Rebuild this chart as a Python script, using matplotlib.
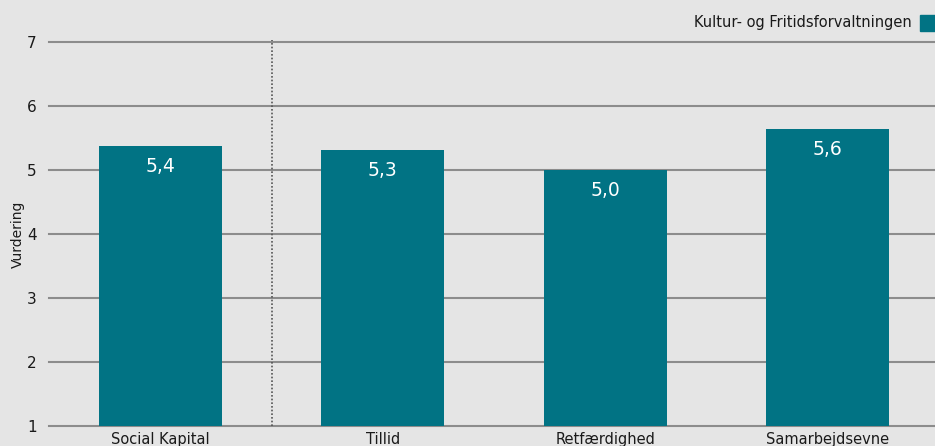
import matplotlib
matplotlib.use("Agg")
import matplotlib.pyplot as plt

categories = ["Social Kapital", "Tillid", "Retfærdighed", "Samarbejdsevne"]
values = [5.37, 5.31, 5.0, 5.64]
value_labels = ["5,4", "5,3", "5,0", "5,6"]
series_name = "Kultur- og Fritidsforvaltningen"
yticks = [1, 2, 3, 4, 5, 6, 7]

bg = "#e5e5e5"
bar_color = "#017384"

plt.rcParams['font.family'] = ['DejaVu Sans']
fig = plt.figure(figsize=(9.35, 4.46), dpi=100, facecolor=bg)
ax = fig.add_axes([49/935, 20/446, 890/935, 384/446])
ax.set_facecolor(bg)

x = list(range(len(categories)))
ax.bar(x, [v - 1 for v in values], bottom=1, width=0.553, color=bar_color, zorder=2)
for xi, v, lab in zip(x, values, value_labels):
    ax.annotate(lab, (xi, v), xytext=(0, -14.5), textcoords="offset points",
                ha="center", va="center", color="white", fontsize=13.5, zorder=3)

ax.set_xlim(-0.5, 3.5)
ax.set_ylim(1, 7)
ax.set_yticks(yticks)
ax.set_yticklabels([str(t) for t in yticks], fontsize=11)
ax.set_xticks(x)
ax.set_xticklabels(categories, fontsize=10.5)
ax.tick_params(axis="both", length=0, colors="#1a1a1a")
ax.tick_params(axis="y", pad=9)
ax.tick_params(axis="x", pad=4)
ax.yaxis.grid(True, color="#8c8c8c", linewidth=1.5, zorder=0)
ax.set_axisbelow(True)
for gl in ax.get_ygridlines():
    gl.set_clip_on(False)
for s in ax.spines.values():
    s.set_visible(False)
ax.axvline(0.5, ymin=0, ymax=1.005, color="#555555", linestyle=(0, (1, 1.2)), linewidth=1.2, zorder=1, clip_on=False)

ax.set_ylabel("Vurdering", fontsize=10, color="#1a1a1a")
ax.yaxis.set_label_coords(-0.036 + 8/890, 0.5)

# legend
fig.patches.append(plt.Rectangle((920/935, (446-31)/446), 16/935, 16/446,
                                 transform=fig.transFigure, color=bar_color, figure=fig))
fig.text(912/935, (446-22)/446, series_name, ha="right", va="center", fontsize=10.5, color="#1a1a1a")

fig.savefig("out.png", dpi=100, facecolor=bg)
